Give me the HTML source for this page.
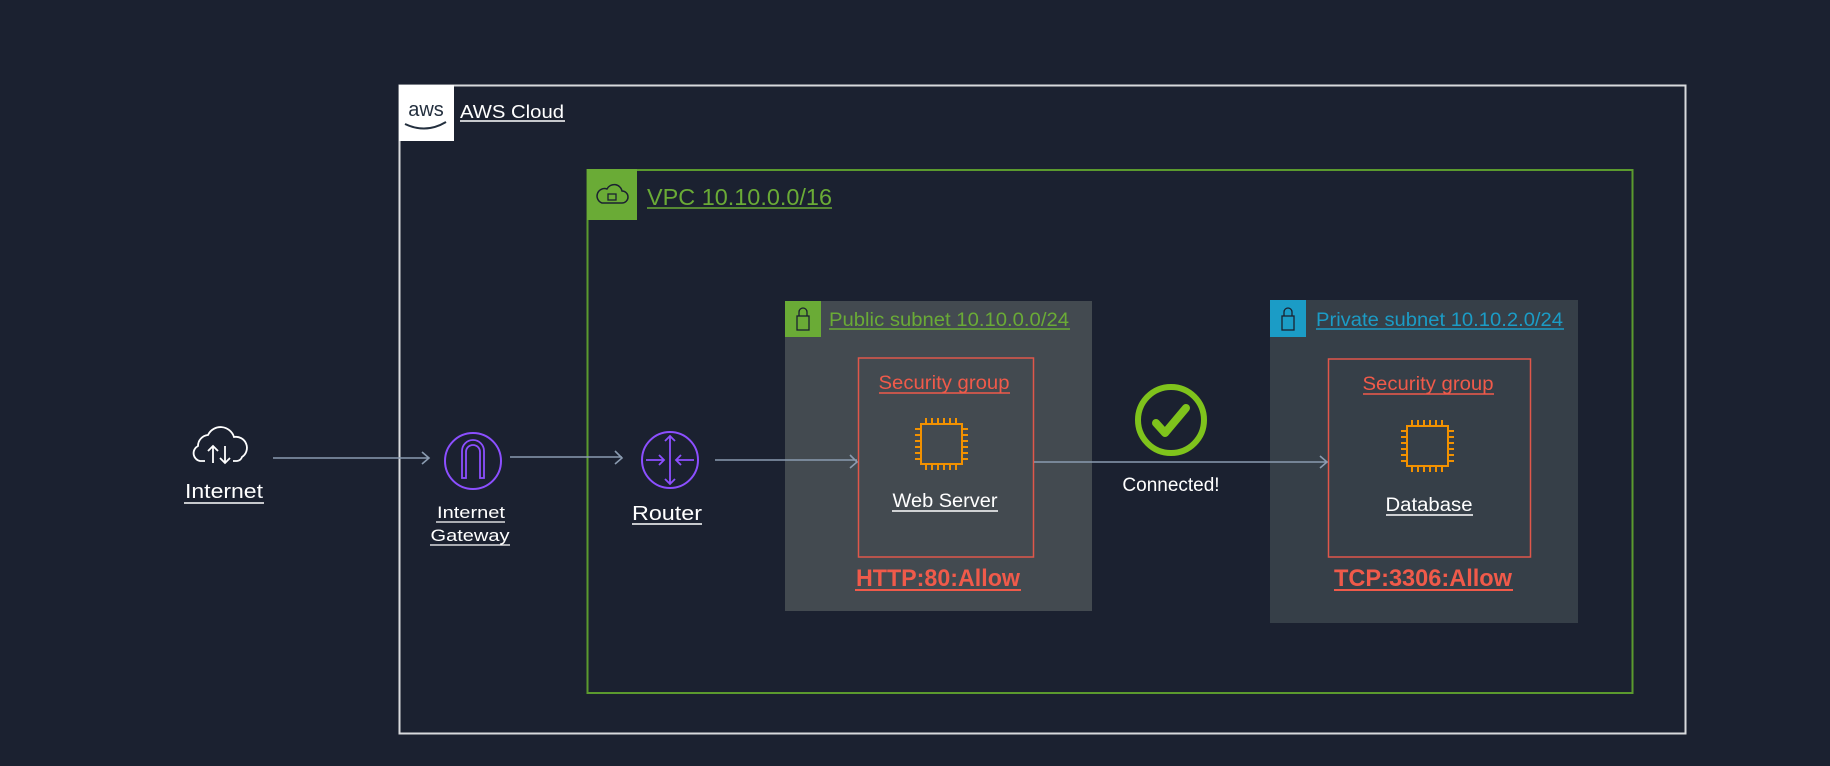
<!DOCTYPE html>
<html><head><meta charset="utf-8"><style>
html,body{margin:0;padding:0;background:#1b2130;}
svg{display:block}
text{font-family:"Liberation Sans",sans-serif}
</style></head><body>
<svg width="1830" height="766" viewBox="0 0 1830 766">
<rect width="1830" height="766" fill="#1b2130"/>
<!-- AWS cloud -->
<rect x="399.5" y="85.5" width="1286" height="648" fill="none" stroke="#d8dadd" stroke-width="2"/>
<rect x="399" y="85" width="55" height="56" fill="#ffffff"/>
<text x="426" y="116" font-size="20" fill="#232f3e" text-anchor="middle">aws</text>
<path d="M405 124 Q426 134 446 122" stroke="#232f3e" stroke-width="2" fill="none"/>
<text x="460" y="118" font-size="18" fill="#ffffff" textLength="104" lengthAdjust="spacingAndGlyphs">AWS Cloud</text>
<line x1="460" y1="121" x2="565" y2="121" stroke="#fff" stroke-width="1.5"/>
<!-- VPC -->
<rect x="587.5" y="170" width="1045" height="523" fill="none" stroke="#5b9a2e" stroke-width="2"/>
<rect x="587" y="169" width="50" height="51" fill="#6aab36"/>
<path d="M602 203 h20 a6 6 0 0 0 0-12 a8 8 0 0 0-15-2 a6 6 0 0 0-5 14z" fill="none" stroke="#1b2130" stroke-width="1.5"/>
<rect x="608" y="194" width="8" height="6" fill="none" stroke="#1b2130" stroke-width="1.3"/>
<text x="647" y="205" font-size="23" fill="#6aab36" textLength="185" lengthAdjust="spacingAndGlyphs">VPC 10.10.0.0/16</text>
<line x1="647" y1="208" x2="832" y2="208" stroke="#6aab36" stroke-width="1.5"/>
<!-- Public subnet -->
<rect x="785" y="301" width="307" height="310" fill="#434a50"/>
<rect x="785" y="301" width="36" height="36" fill="#6aab36"/>
<rect x="797" y="316" width="12" height="14" fill="none" stroke="#1b2130" stroke-width="1.3"/>
<path d="M799 316 v-4 a4 4 0 0 1 8 0 v4" fill="none" stroke="#1b2130" stroke-width="1.3"/>
<text x="829" y="326" font-size="19" fill="#6aab36" textLength="240" lengthAdjust="spacingAndGlyphs">Public subnet 10.10.0.0/24</text>
<line x1="829" y1="329" x2="1070" y2="329" stroke="#6aab36" stroke-width="1.5"/>
<!-- Private subnet -->
<rect x="1270" y="300" width="308" height="323" fill="#363f48"/>
<rect x="1270" y="300" width="36" height="37" fill="#1b9cc6"/>
<rect x="1282" y="316" width="12" height="14" fill="none" stroke="#1b2130" stroke-width="1.3"/>
<path d="M1284 316 v-4 a4 4 0 0 1 8 0 v4" fill="none" stroke="#1b2130" stroke-width="1.3"/>
<text x="1316" y="326" font-size="19" fill="#1b9cc6" textLength="247" lengthAdjust="spacingAndGlyphs">Private subnet 10.10.2.0/24</text>
<line x1="1316" y1="329" x2="1564" y2="329" stroke="#1b9cc6" stroke-width="1.5"/>
<!-- SGs -->
<rect x="858.5" y="358" width="175" height="199" fill="none" stroke="#e0574a" stroke-width="1.5"/>
<rect x="1328.5" y="359" width="202" height="198" fill="none" stroke="#e0574a" stroke-width="1.5"/>
<g font-size="19" fill="#f05a4a" text-anchor="middle">
<text x="944" y="389" textLength="131" lengthAdjust="spacingAndGlyphs">Security group</text>
<text x="1428" y="390" textLength="131" lengthAdjust="spacingAndGlyphs">Security group</text>
</g>
<line x1="879" y1="393" x2="1010" y2="393" stroke="#f05a4a" stroke-width="1.5"/>
<line x1="1363" y1="394" x2="1494" y2="394" stroke="#f05a4a" stroke-width="1.5"/>
<!-- chips -->
<g id="chip" stroke="#f29100" stroke-width="2" fill="none">
<rect x="921" y="424" width="41" height="40"/>
<path d="M926 424v-6M932 424v-6M938 424v-6M944 424v-6M950 424v-6M956 424v-6M926 464v6M932 464v6M938 464v6M944 464v6M950 464v6M956 464v6M921 429h-6M921 435h-6M921 441h-6M921 447h-6M921 453h-6M921 459h-6M962 429h6M962 435h6M962 441h6M962 447h6M962 453h6M962 459h6"/>
</g>
<use href="#chip" x="486" y="2"/>
<g font-size="19" fill="#ffffff" text-anchor="middle">
<text x="945" y="507" textLength="105" lengthAdjust="spacingAndGlyphs">Web Server</text>
<text x="1429" y="511" textLength="87" lengthAdjust="spacingAndGlyphs">Database</text>
</g>
<line x1="892" y1="511" x2="998" y2="511" stroke="#fff" stroke-width="1.5"/>
<line x1="1386" y1="515" x2="1473" y2="515" stroke="#fff" stroke-width="1.5"/>
<g font-size="24" font-weight="bold" fill="#f05a4a" text-anchor="middle">
<text x="938" y="586" textLength="164" lengthAdjust="spacingAndGlyphs">HTTP:80:Allow</text>
<text x="1423" y="586" textLength="178" lengthAdjust="spacingAndGlyphs">TCP:3306:Allow</text>
</g>
<line x1="855" y1="590" x2="1021" y2="590" stroke="#f05a4a" stroke-width="2"/>
<line x1="1334" y1="590" x2="1513" y2="590" stroke="#f05a4a" stroke-width="2"/>
<!-- check -->
<circle cx="1171" cy="420" r="33" fill="none" stroke="#7fc31c" stroke-width="6"/>
<path d="M1156 423 L1165 433 L1186 408" fill="none" stroke="#7fc31c" stroke-width="8" stroke-linecap="round" stroke-linejoin="round"/>
<text x="1171" y="491" font-size="19" fill="#ffffff" text-anchor="middle" font-family="DejaVu Sans, sans-serif">Connected!</text>
<!-- arrows -->
<g stroke="#8a9bb0" stroke-width="1.6" fill="none">
<path d="M273 458 H429 M422 452 L429 458 L422 464"/>
<path d="M510 457 H622 M615 451 L622 458 L615 464"/>
<path d="M715 460 H857 M850 455 L857 462 L850 468"/>
<path d="M1034 462 H1327 M1320 456 L1327 462 L1320 468"/>
</g>
<!-- internet -->
<g stroke="#ffffff" stroke-width="1.8" fill="none">
<path d="M205 461 h-5 a8 8 0 0 1 -2-15 a11 11 0 0 1 10-11 a14 14 0 0 1 26 2 a11 11 0 0 1 8 20 a6 6 0 0 1 -5 4 h-4"/>
<path d="M213 463 v-17 M208 451 l5-5 l5 5"/>
<path d="M225 446 v17 M220 458 l5 5 l5-5"/>
</g>
<text x="224" y="498" font-size="20" fill="#fff" text-anchor="middle" textLength="78" lengthAdjust="spacingAndGlyphs">Internet</text>
<line x1="184" y1="503" x2="264" y2="503" stroke="#fff" stroke-width="1.5"/>
<!-- IGW -->
<circle cx="473" cy="461" r="28" fill="none" stroke="#8c4fff" stroke-width="2"/>
<path d="M462 478 V451 a11 11 0 0 1 22 0 V478 h-4 V452 a7 7 0 0 0 -14 0 V478z" fill="none" stroke="#8c4fff" stroke-width="1.8"/>
<g font-size="17" fill="#fff" text-anchor="middle">
<text x="471" y="518" textLength="68" lengthAdjust="spacingAndGlyphs">Internet</text>
<text x="470" y="541" textLength="79" lengthAdjust="spacingAndGlyphs">Gateway</text>
</g>
<line x1="436" y1="522" x2="505" y2="522" stroke="#fff" stroke-width="1.3"/>
<line x1="430" y1="545" x2="510" y2="545" stroke="#fff" stroke-width="1.3"/>
<!-- Router -->
<circle cx="670" cy="460" r="28" fill="none" stroke="#8c4fff" stroke-width="2"/>
<g stroke="#8c4fff" stroke-width="1.8" fill="none">
<path d="M670 436 v48 M665 441 l5-5 l5 5 M665 479 l5 5 l5-5"/>
<path d="M646 460 h18 M659 455 l5 5 l-5 5 M694 460 h-18 M681 455 l-5 5 l5 5"/>
</g>
<text x="667" y="520" font-size="20" fill="#fff" text-anchor="middle" textLength="70" lengthAdjust="spacingAndGlyphs">Router</text>
<line x1="632" y1="524" x2="702" y2="524" stroke="#fff" stroke-width="1.5"/>
</svg>
</body></html>
